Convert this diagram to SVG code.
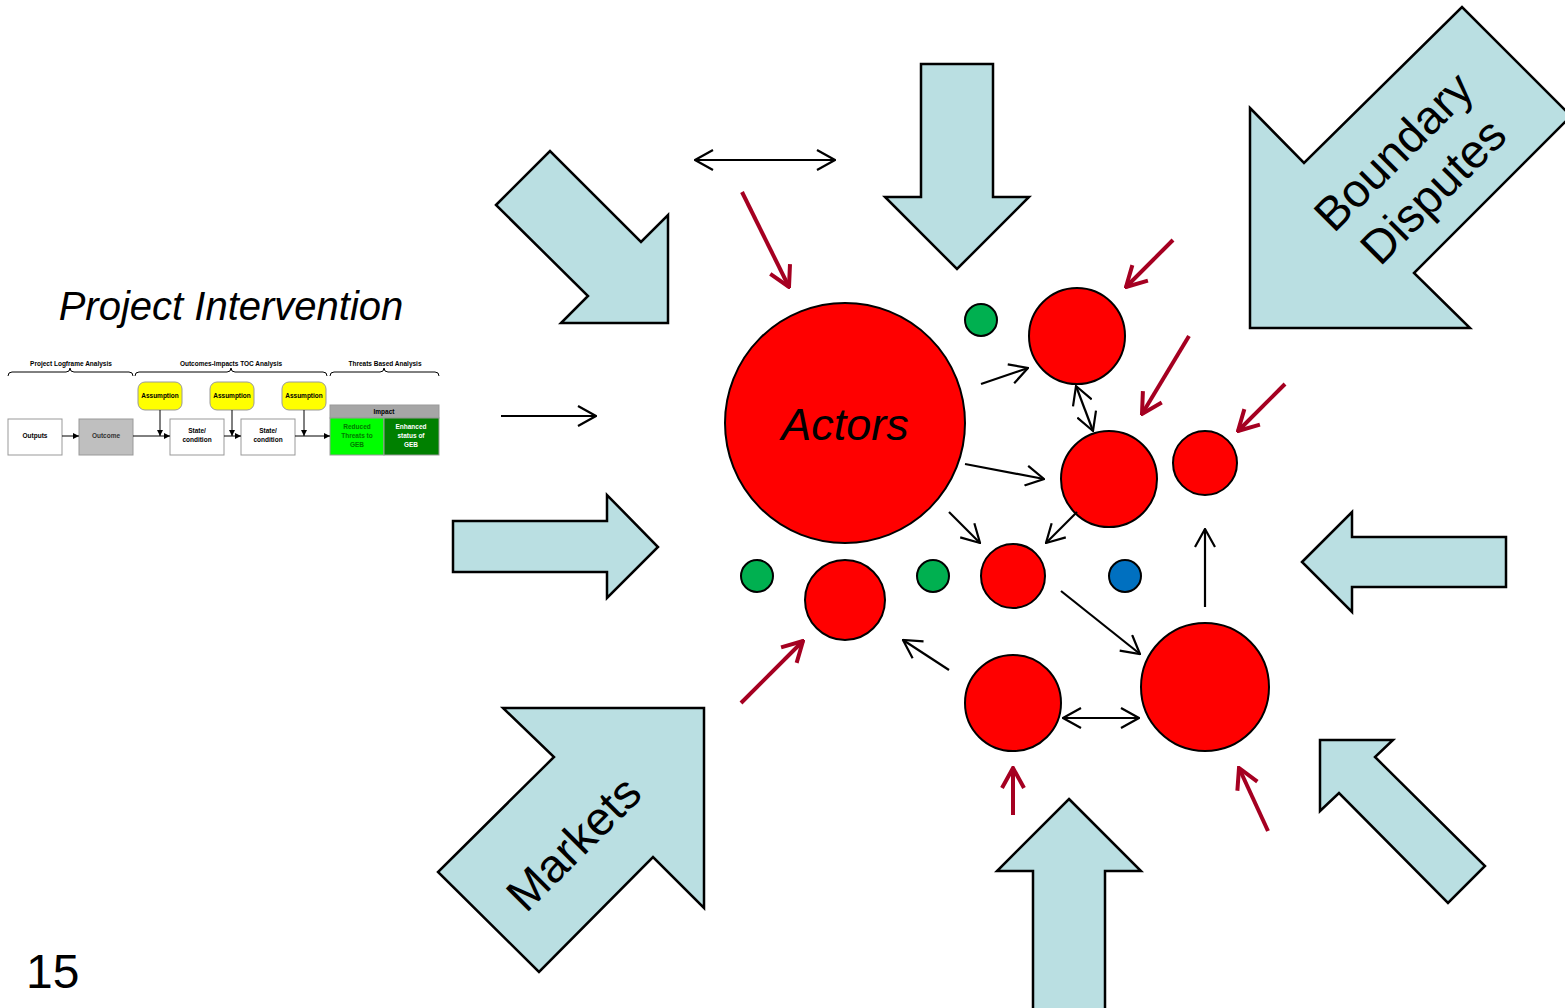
<svg xmlns="http://www.w3.org/2000/svg" width="1565" height="1008" viewBox="0 0 1565 1008">
<style>
.big{fill:#BADFE2;stroke:#000;stroke-width:2.5;stroke-linejoin:miter}
.red{fill:#FF0000;stroke:#000;stroke-width:2}
.grn{fill:#00B050;stroke:#000;stroke-width:2}
.blu{fill:#0070C0;stroke:#000;stroke-width:2}
.blk{stroke:#000;stroke-width:2.2;fill:none}
.dr{stroke:#A50021;stroke-width:4;fill:none}
.lbl{font-family:"Liberation Sans",Arial,sans-serif;fill:#000}
.mini{font-family:"Liberation Sans",Arial,sans-serif;font-weight:bold;font-size:6.5px;text-anchor:middle}
.mb{fill:#fff;stroke:#999;stroke-width:1}
.ml{stroke:#000;stroke-width:1;fill:none}
</style>
<defs>
<marker id="ah" viewBox="0 0 20 22" refX="19" refY="11" markerWidth="20" markerHeight="22" markerUnits="userSpaceOnUse" orient="auto-start-reverse"><path d="M1,1 L19,11 L1,21" fill="none" stroke="#000" stroke-width="2.2"/></marker>
<marker id="rh" viewBox="0 0 24 26" refX="22" refY="13" markerWidth="24" markerHeight="26" markerUnits="userSpaceOnUse" orient="auto"><path d="M2,2 L22,13 L2,24" fill="none" stroke="#A50021" stroke-width="4"/></marker>
<marker id="sm" viewBox="0 0 6 6" refX="6" refY="3" markerWidth="6" markerHeight="6" markerUnits="userSpaceOnUse" orient="auto"><path d="M0,0 L6,3 L0,6z" fill="#000"/></marker>
</defs>
<rect width="1565" height="1008" fill="#fff"/>

<!-- Big force arrows -->
<g id="arrow-top-left"><polygon class="big" points="496,205 550,151 641,242 668,215 668,323 561,323 588,296"/></g>
<g id="arrow-top"><polygon class="big" points="921,64 993,64 993,197 1029,197 957,269 885,197 921,197"/></g>
<g id="arrow-boundary">
<polygon class="big" points="1250,108 1304,163 1462,7 1571,116 1414,273 1470,328 1250,328"/>
<g transform="translate(1412,170) rotate(-45)">
<text class="lbl" font-size="47" text-anchor="middle" x="0" y="-10">Boundary</text>
<text class="lbl" font-size="47" text-anchor="middle" x="0" y="46">Disputes</text>
</g>
</g>
<g id="arrow-left"><polygon class="big" points="453,521 607,521 607,495 658,547 607,598 607,572 453,572"/></g>
<g id="arrow-right"><polygon class="big" points="1302,562 1352,512 1352,537 1506,537 1506,587 1352,587 1352,612"/></g>
<g id="arrow-markets">
<polygon class="big" points="503,708 704,708 704,908 653,857 539,972 438,872 554,757"/>
<text class="lbl" font-size="47" text-anchor="middle" transform="translate(573,843) rotate(-45)" x="0" y="17">Markets</text>
</g>
<g id="arrow-bottom"><polygon class="big" points="1069,799 1141,871 1105,871 1105,1012 1033,1012 1033,871 997,871"/></g>
<g id="arrow-bottom-right"><polygon class="big" points="1320,740 1393,740 1375,757 1485,866 1448,903 1339,793 1320,811"/></g>

<!-- Actors and circles -->
<g id="actors"><circle class="red" cx="845" cy="423" r="120"/>
<text class="lbl" font-size="45" font-style="italic" text-anchor="middle" x="845" y="440">Actors</text></g>
<g id="c-a"><circle class="red" cx="1077" cy="336" r="48"/></g>
<g id="c-b"><circle class="red" cx="1109" cy="479" r="48"/></g>
<g id="c-c"><circle class="red" cx="1205" cy="463" r="32"/></g>
<g id="c-d"><circle class="red" cx="1013" cy="576" r="32"/></g>
<g id="c-e"><circle class="red" cx="845" cy="600" r="40"/></g>
<g id="c-f"><circle class="red" cx="1013" cy="703" r="48"/></g>
<g id="c-g"><circle class="red" cx="1205" cy="687" r="64"/></g>
<g id="g1"><circle class="grn" cx="981" cy="320" r="16"/></g>
<g id="g2"><circle class="grn" cx="757" cy="576" r="16"/></g>
<g id="g3"><circle class="grn" cx="933" cy="576" r="16"/></g>
<g id="b1"><circle class="blu" cx="1125" cy="576" r="16"/></g>

<!-- Connectors -->
<g id="connectors">
<line class="blk" x1="695" y1="160" x2="835" y2="160" marker-start="url(#ah)" marker-end="url(#ah)"/>
<line class="blk" x1="501" y1="416" x2="596" y2="416" marker-end="url(#ah)"/>
<line class="blk" x1="981" y1="384" x2="1028" y2="368" marker-end="url(#ah)"/>
<line class="blk" x1="1076" y1="386" x2="1093" y2="431" marker-start="url(#ah)" marker-end="url(#ah)"/>
<line class="blk" x1="965" y1="464" x2="1044" y2="479" marker-end="url(#ah)"/>
<line class="blk" x1="949" y1="512" x2="980" y2="543" marker-end="url(#ah)"/>
<line class="blk" x1="1077" y1="512" x2="1046" y2="543" marker-end="url(#ah)"/>
<line class="blk" x1="1061" y1="591" x2="1140" y2="654" marker-end="url(#ah)"/>
<line class="blk" x1="1063" y1="718" x2="1139" y2="718" marker-start="url(#ah)" marker-end="url(#ah)"/>
<line class="blk" x1="1205" y1="607" x2="1205" y2="529" marker-end="url(#ah)"/>
<line class="blk" x1="949" y1="670" x2="903" y2="640" marker-end="url(#ah)"/>
<line class="dr" x1="742" y1="192" x2="789" y2="287" marker-end="url(#rh)"/>
<line class="dr" x1="1173" y1="240" x2="1126" y2="287" marker-end="url(#rh)"/>
<line class="dr" x1="1189" y1="336" x2="1142" y2="414" marker-end="url(#rh)"/>
<line class="dr" x1="1285" y1="384" x2="1238" y2="431" marker-end="url(#rh)"/>
<line class="dr" x1="741" y1="703" x2="803" y2="641" marker-end="url(#rh)"/>
<line class="dr" x1="1013" y1="815" x2="1013" y2="768" marker-end="url(#rh)"/>
<line class="dr" x1="1268" y1="831" x2="1239" y2="768" marker-end="url(#rh)"/>
</g>

<!-- Project Intervention -->
<g id="project-intervention">
<text class="lbl" font-size="40" font-style="italic" text-anchor="middle" x="231" y="320">Project Intervention</text>
<text class="mini" x="71" y="366">Project Logframe Analysis</text>
<text class="mini" x="231" y="366">Outcomes-Impacts TOC Analysis</text>
<text class="mini" x="385" y="366">Threats Based Analysis</text>
<path class="ml" d="M8,376 Q8,372 12,372 L66,372 Q70,372 70,368 Q70,372 74,372 L129,372 Q133,372 133,376"/>
<path class="ml" d="M135,376 Q135,372 139,372 L227,372 Q231,372 231,368 Q231,372 235,372 L323,372 Q327,372 327,376"/>
<path class="ml" d="M330,376 Q330,372 334,372 L380,372 Q384,372 384,368 Q384,372 388,372 L435,372 Q439,372 439,376"/>
<rect class="mb" x="8" y="419" width="54" height="36"/>
<text class="mini" x="35" y="438">Outputs</text>
<rect x="79" y="419" width="54" height="36" fill="#BFBFBF" stroke="#999"/>
<text class="mini" x="106" y="438" font-weight="normal" fill="#333">Outcome</text>
<rect x="138" y="382" width="44" height="28" rx="7" fill="#FFFF00" stroke="#999"/>
<text class="mini" x="160" y="398" font-size="6">Assumption</text>
<rect x="210" y="382" width="44" height="28" rx="7" fill="#FFFF00" stroke="#999"/>
<text class="mini" x="232" y="398" font-size="6">Assumption</text>
<rect x="282" y="382" width="44" height="28" rx="7" fill="#FFFF00" stroke="#999"/>
<text class="mini" x="304" y="398" font-size="6">Assumption</text>
<rect class="mb" x="170" y="419" width="54" height="36"/>
<text class="mini" x="197" y="433">State/</text><text class="mini" x="197" y="442">condition</text>
<rect class="mb" x="241" y="419" width="54" height="36"/>
<text class="mini" x="268" y="433">State/</text><text class="mini" x="268" y="442">condition</text>
<rect x="330" y="405" width="109" height="13" fill="#A6A6A6" stroke="#999"/>
<text class="mini" x="384" y="414" font-weight="normal">Impact</text>
<rect x="330" y="418" width="54" height="37" fill="#00FF00" stroke="#999"/>
<rect x="384" y="418" width="55" height="37" fill="#008000" stroke="#999"/>
<text class="mini" x="357" y="429" font-weight="normal" fill="#007a00">Reduced</text>
<text class="mini" x="357" y="438" font-weight="normal" fill="#007a00">Threats to</text>
<text class="mini" x="357" y="447" font-weight="normal" fill="#007a00">GEB</text>
<text class="mini" x="411" y="429" font-weight="normal" fill="#fff">Enhanced</text>
<text class="mini" x="411" y="438" font-weight="normal" fill="#fff">status of</text>
<text class="mini" x="411" y="447" font-weight="normal" fill="#fff">GEB</text>
<line class="ml" x1="62" y1="436" x2="79" y2="436" marker-end="url(#sm)"/>
<line class="ml" x1="133" y1="436" x2="170" y2="436" marker-end="url(#sm)"/>
<line class="ml" x1="224" y1="436" x2="241" y2="436" marker-end="url(#sm)"/>
<line class="ml" x1="295" y1="436" x2="330" y2="436" marker-end="url(#sm)"/>
<line class="ml" x1="160" y1="410" x2="160" y2="436" marker-end="url(#sm)"/>
<line class="ml" x1="232" y1="410" x2="232" y2="436" marker-end="url(#sm)"/>
<line class="ml" x1="304" y1="410" x2="304" y2="436" marker-end="url(#sm)"/>
</g>

<text class="lbl" font-size="48" x="26" y="988">15</text>
</svg>
